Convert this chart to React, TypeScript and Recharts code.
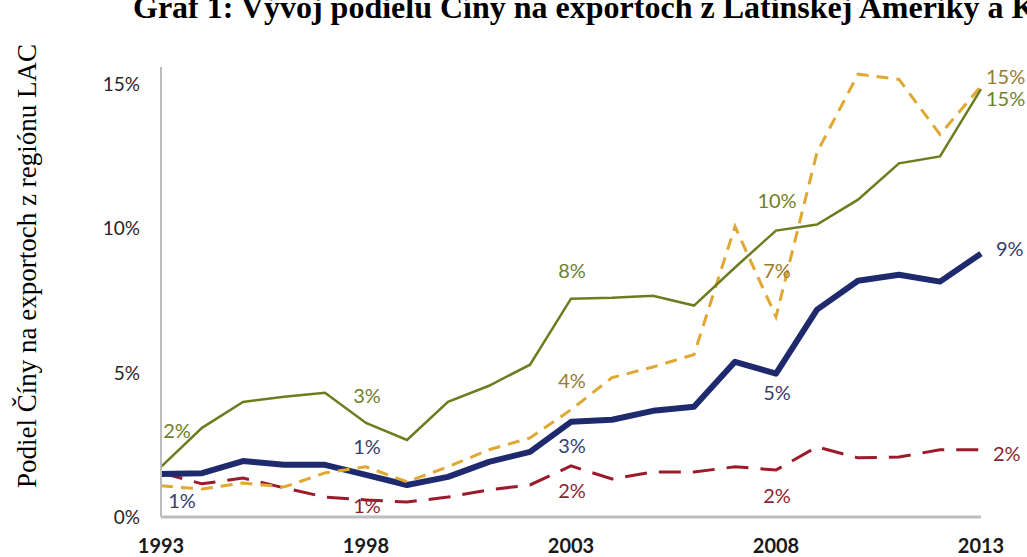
import { LabelList, Line, LineChart, XAxis, YAxis } from 'recharts';

const years = [
  1993, 1994, 1995, 1996, 1997, 1998, 1999, 2000, 2001, 2002, 2003,
  2004, 2005, 2006, 2007, 2008, 2009, 2010, 2011, 2012, 2013,
];

// olive solid line
const greenValues = [
  1.74, 3.09, 3.99, 4.17, 4.31, 3.26, 2.67, 3.99, 4.55, 5.28, 7.57,
  7.6, 7.67, 7.33, 8.65, 9.93, 10.14, 11.0, 12.26, 12.5, 14.83,
];

// gold dashed line
const goldValues = [
  1.08, 0.97, 1.18, 1.04, 1.53, 1.74, 1.22, 1.74, 2.33, 2.74, 3.72,
  4.83, 5.2, 5.63, 10.07, 6.94, 12.64, 15.35, 15.17, 13.26, 14.93,
];

// thick navy line
const navyValues = [
  1.49, 1.52, 1.94, 1.81, 1.81, 1.46, 1.11, 1.39, 1.91, 2.26, 3.3,
  3.37, 3.68, 3.82, 5.38, 4.97, 7.19, 8.19, 8.4, 8.16, 9.13,
];

// dark red long-dash line
const redValues = [
  1.53, 1.15, 1.35, 1.01, 0.69, 0.59, 0.52, 0.69, 0.94, 1.11, 1.77,
  1.32, 1.56, 1.56, 1.74, 1.63, 2.43, 2.05, 2.08, 2.33, 2.33,
];

const xTicks = [1993, 1998, 2003, 2008, 2013];
const yTicks = [0, 5, 10, 15];

const data = years.map((year, i) => ({
  year,
  green: greenValues[i],
  gold: goldValues[i],
  navy: navyValues[i],
  red: redValues[i],
}));

type Spot = { i: number; dx: number; dy: number; anchor?: 'start' | 'middle' };

const greenSpots: Spot[] = [
  { i: 0, dx: 16, dy: -37 },
  { i: 5, dx: 1, dy: -28 },
  { i: 10, dx: 1, dy: -29 },
  { i: 15, dx: 1, dy: -31 },
  { i: 20, dx: 5, dy: 9, anchor: 'start' },
];
const goldSpots: Spot[] = [
  { i: 10, dx: 1, dy: -30 },
  { i: 15, dx: 1, dy: -47 },
  { i: 20, dx: 5, dy: -10, anchor: 'start' },
];
const navySpots: Spot[] = [
  { i: 0, dx: 21, dy: 26 },
  { i: 5, dx: 1, dy: -29 },
  { i: 10, dx: 1, dy: 23 },
  { i: 15, dx: 1, dy: 18 },
  { i: 20, dx: 15, dy: -6, anchor: 'start' },
];
const redSpots: Spot[] = [
  { i: 5, dx: 1, dy: 5 },
  { i: 10, dx: 1, dy: 24 },
  { i: 15, dx: 1, dy: 25 },
  { i: 20, dx: 12, dy: 3, anchor: 'start' },
];

const makeLabel = (spots: Spot[], color: string) => (props: any) => {
  const { x, y, index, value } = props;
  const s = spots.find((p) => p.i === index);
  if (!s) return null;
  return (
    <text
      x={x + s.dx}
      y={y + s.dy}
      fill={color}
      fontSize={20}
      fontFamily="Lato, sans-serif"
      textAnchor={s.anchor ?? 'middle'}
      dominantBaseline="central"
    >
      {Math.round(value)}%
    </text>
  );
};

export default function App() {
  return (
    <div
      style={{
        position: 'absolute',
        left: 0,
        top: 0,
        width: 1027,
        height: 557,
        overflow: 'hidden',
        background: '#fff',
      }}
    >
      <LineChart
        width={1027}
        height={557}
        data={data}
        margin={{ top: 67, right: 46, bottom: 0, left: 101 }}
      >
        <XAxis
          dataKey="year"
          type="number"
          domain={[1993, 2013]}
          ticks={xTicks}
          axisLine={{ stroke: '#bdbdbd', strokeWidth: 3 }}
          tickLine={false}
          tickSize={0}
          tickMargin={22}
          height={40}
          tick={{ fill: '#1a1a1a', fontSize: 20, fontWeight: 700, fontFamily: 'Lato, sans-serif' }}
        />
        <YAxis
          domain={[0, 15.6]}
          ticks={yTicks}
          tickFormatter={(v) => `${v}%`}
          axisLine={{ stroke: '#bdbdbd', strokeWidth: 2 }}
          tickLine={false}
          tickSize={0}
          tickMargin={21}
          width={60}
          tick={{ fill: '#262626', fontSize: 19, fontFamily: 'Lato, sans-serif' }}
        />
        <Line
          dataKey="red"
          stroke="#9c1b2b"
          strokeWidth={3}
          strokeDasharray="22 12"
          dot={false}
          isAnimationActive={false}
        >
          <LabelList dataKey="red" content={makeLabel(redSpots, '#8e1f2e')} />
        </Line>
        <Line
          dataKey="navy"
          stroke="#1f2a6e"
          strokeWidth={6}
          strokeLinejoin="round"
          dot={false}
          isAnimationActive={false}
        >
          <LabelList dataKey="navy" content={makeLabel(navySpots, '#34406f')} />
        </Line>
        <Line
          dataKey="gold"
          stroke="#e0a832"
          strokeWidth={3}
          strokeDasharray="12 8"
          dot={false}
          isAnimationActive={false}
        >
          <LabelList dataKey="gold" content={makeLabel(goldSpots, '#9a7a2e')} />
        </Line>
        <Line
          dataKey="green"
          stroke="#6b7d1f"
          strokeWidth={2.5}
          dot={false}
          isAnimationActive={false}
        >
          <LabelList dataKey="green" content={makeLabel(greenSpots, '#6f7f2a')} />
        </Line>
      </LineChart>
      <svg
        width={1027}
        height={557}
        style={{ position: 'absolute', left: 0, top: 0, pointerEvents: 'none' }}
      >
        <text
          x={133}
          y={18}
          fontFamily="'Liberation Serif', 'Times New Roman', serif"
          fontWeight={700}
          fontSize={32}
          fill="#000"
        >
          Graf 1: Vývoj podielu Číny na exportoch z Latinskej Ameriky a Karibiku
        </text>
        <text
          transform="translate(36, 266) rotate(-90)"
          textAnchor="middle"
          fontFamily="'Liberation Serif', 'Times New Roman', serif"
          fontSize={27}
          fill="#000"
        >
          Podiel Číny na exportoch z regiónu LAC
        </text>
      </svg>
    </div>
  );
}
